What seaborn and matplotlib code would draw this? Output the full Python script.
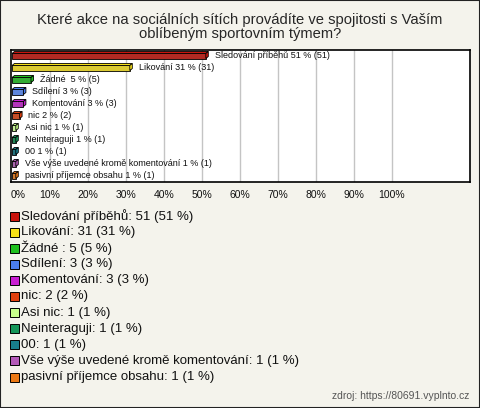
import matplotlib
matplotlib.use("Agg")
import matplotlib.pyplot as plt
from matplotlib.patches import Polygon, Rectangle
import seaborn as sns
import pandas as pd

# data
categories = ["Sledování příběhů", "Likování", "Žádné ", "Sdílení", "Komentování", "nic",
              "Asi nic", "Neinteraguji", "00", "Vše výše uvedené kromě komentování",
              "pasivní příjemce obsahu"]
counts = [51, 31, 5, 3, 3, 2, 1, 1, 1, 1, 1]
percents = [51, 31, 5, 3, 3, 2, 1, 1, 1, 1, 1]
colors = ["#c8140c", "#f7e017", "#1fc01f", "#4a7ef0", "#c81ed2", "#e0400e",
          "#c8ff8c", "#149659", "#187e8c", "#b45ab9", "#eb7814"]
tick_labels = ["0%", "10%", "20%", "30%", "40%", "50%", "60%", "70%", "80%", "90%", "100%"]

title = "Které akce na sociálních sítích provádíte ve spojitosti s Vaším\noblíbeným sportovním týmem?"
source = "zdroj: https://80691.vyplnto.cz"

bg = "#f4f3ec"
W, H = 480, 408

sns.set_style("white")
plt.rcParams["font.family"] = ["Liberation Sans", "DejaVu Sans"]

fig = plt.figure(figsize=(W / 100, H / 100), dpi=100, facecolor=bg)
fig.patches.append(Rectangle((0, 0), 1, 1, transform=fig.transFigure, fill=False,
                             edgecolor="#222222", linewidth=1.5))

fig.text(0.5, 1 - 27 / H, title, ha="center", va="center", fontsize=10.6, linespacing=1.05)

# plot area in pixel coordinates
left, right, top, bottom = 11, 470, 50, 182
ax = fig.add_axes([left / W, 1 - bottom / H, (right - left) / W, (bottom - top) / H])
ax.set_facecolor("white")

df = pd.DataFrame({"cat": categories, "pct": percents, "n": counts})
sns.barplot(data=df, x="pct", y="cat", hue="cat", palette=colors, legend=False,
            orient="h", width=0.42, edgecolor="black", linewidth=0.6, ax=ax, zorder=3)

px = 3.8  # pixels per percent
xmax = (right - left - 1) / px
ax.set_xlim(-1 / px, xmax)
ax.set_ylim(len(categories) - 0.5, -0.5)

# simple 3D look: top and side faces
dx, dy = 2.5 / px, 2.0 / 12
for patch, c in zip(ax.patches[:len(categories)], colors):
    x0, y0 = patch.get_x(), patch.get_y()
    w, h = patch.get_width(), patch.get_height()
    topf = Polygon([(x0, y0), (x0 + dx, y0 - dy), (x0 + w + dx, y0 - dy), (x0 + w, y0)],
                   closed=True, facecolor=c, edgecolor="black", linewidth=0.6, zorder=3)
    side = Polygon([(x0 + w, y0), (x0 + w + dx, y0 - dy), (x0 + w + dx, y0 + h - dy), (x0 + w, y0 + h)],
                   closed=True, facecolor=c, edgecolor="black", linewidth=0.6, zorder=3)
    ax.add_patch(topf)
    ax.add_patch(side)

for i, (cat, p, n) in enumerate(zip(categories, percents, counts)):
    ax.text(p + 2.3, i - 0.05, f"{cat} {p} % ({n})", va="center", ha="left",
            fontsize=6.5, color="#111111", zorder=4)

for g in range(10, 101, 10):
    ax.axvline(g, color="#c4c4c4", linewidth=1, zorder=1)

ax.set_xticks([])
ax.set_yticks([])
ax.set_xlabel("")
ax.set_ylabel("")
for s in ax.spines.values():
    s.set_visible(True)
    s.set_color("black")
    s.set_linewidth(1.2)

for k, lab in enumerate(tick_labels):
    xpix = 12 + k * 10 * px
    if k == 0:
        xpix += 6
    fig.text(xpix / W, 1 - 195 / H, lab, ha="center", va="center", fontsize=7.5, color="#111111")

# legend
for i, (cat, p, n, c) in enumerate(zip(categories, percents, counts, colors)):
    ycen = 216 + i * 16.1
    fig.patches.append(Rectangle((10 / W, 1 - (ycen + 4.5) / H), 9 / W, 9 / H,
                                 transform=fig.transFigure, facecolor=c,
                                 edgecolor="black", linewidth=0.7))
    fig.text(21 / W, 1 - ycen / H, f"{cat}: {n} ({p} %)", ha="left", va="center",
             fontsize=9.5, color="#111111")

fig.text(469 / W, 1 - 396 / H, source, ha="right", va="center", fontsize=7.5, color="#555555")

fig.savefig("out.png", dpi=100, facecolor=bg)
